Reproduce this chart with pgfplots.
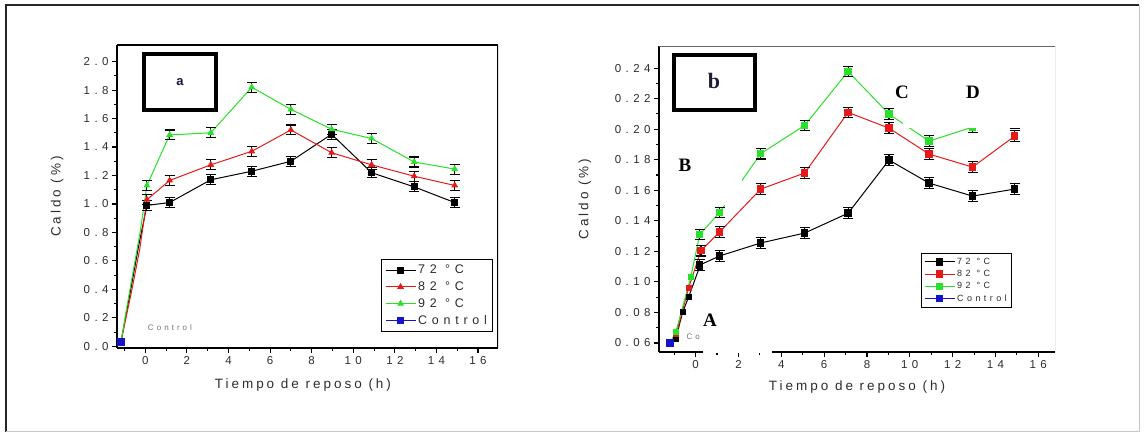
\documentclass[border=0pt]{standalone}
\usepackage{fontspec}
\setmainfont{Liberation Sans}
\newfontfamily\tnr{Liberation Serif}
\newfontfamily\spacedA[LetterSpace=38]{Liberation Sans}
\newfontfamily\spacedB[LetterSpace=22]{Liberation Sans}
\usepackage{pgfplots}
\pgfplotsset{compat=1.18}
\definecolor{cred}{RGB}{230,25,25}
\definecolor{cgreen}{RGB}{40,225,40}
\definecolor{cblue}{RGB}{20,20,200}
\definecolor{tgrey}{RGB}{45,45,45}
\pgfplotsset{
  myaxis/.style={
    scale only axis, axis lines*=left,
    axis line style={line width=1.9pt, black},
    tick align=outside, major tick length=5pt, minor tick length=3pt,
    every tick/.style={black, line width=1.1pt},
    /pgf/number format/assume math mode=true,
    tick label style={font=\spacedA\fontsize{11.5}{13}\selectfont, text=tgrey},
    label style={font=\spacedB\fontsize{13.5}{15}\selectfont, text=tgrey},
    legend cell align=left,
    legend image code/.code={\draw[mark repeat=2,mark phase=2] plot coordinates {(0pt,0pt)(15pt,0pt)(30pt,0pt)};},
  },
  ebar/.style={error bars/.cd, y dir=both, y fixed=#1,
    error bar style={black, line width=1.1pt},
    error mark options={rotate=90, mark size=5pt, line width=1.1pt, black}},
}
\begin{document}
\begin{tikzpicture}[x=1pt,y=1pt]
% ---------------- panel a ----------------
\begin{axis}[myaxis, at={(117pt,85pt)}, anchor=south west,
  width=381pt, height=303pt,
  xmin=-1.36, xmax=16.96, ymin=-0.012, ymax=2.117,
  xtick={0,2,...,16}, minor xtick={-1,1,...,15},
  ytick={0,0.2,0.4,0.6,0.8,1.0,1.2,1.4,1.6,1.8,2.0}, minor y tick num=1,
  yticklabel style={/pgf/number format/.cd, fixed, fixed zerofill, precision=1},
  xlabel={Tiempo de reposo (h)}, ylabel={Caldo (\%)},
  xlabel style={at={(axis description cs:0.488,-0.122)}, anchor=center},
  ylabel style={at={(axis description cs:-0.157,0.5)}, anchor=center},
  legend style={at={(axis description cs:0.987,0.053)}, anchor=south east,
    draw=black, line width=1.2pt, font=\spacedA\fontsize{12.5}{14}\selectfont, text=tgrey,
    row sep=2.5pt, inner sep=3.5pt},
]
\addplot[black, line width=1pt, forget plot] coordinates {(-1.17,0.03) (-0.75,0.36) (-0.3,0.72) (0.08,0.99)};
\addplot[cred, line width=1pt, forget plot] coordinates {(-1.17,0.03) (-0.64,0.40) (-0.27,0.68) (0.08,1.03)};
\addplot[cgreen, line width=1pt, forget plot] coordinates {(-1.17,0.03) (-0.88,0.28) (-0.24,0.81) (0.08,1.13)};
\addplot[black, line width=1pt, mark=square*, mark size=3pt, ebar=0.035] coordinates {
 (0.08,0.99) (1.17,1.01) (3.15,1.17) (5.12,1.23) (7.0,1.30) (8.96,1.49) (10.88,1.22) (12.93,1.12) (14.88,1.01)};
\addplot[cred, line width=1pt, mark=triangle*, mark size=3pt, ebar=0.035] coordinates {
 (0.08,1.03) (1.17,1.165) (3.15,1.275) (5.12,1.37) (7.0,1.52) (8.96,1.36) (10.88,1.275) (12.93,1.195) (14.88,1.13)};
\addplot[cgreen, line width=1pt, mark=triangle*, mark size=3pt, ebar=0.035] coordinates {
 (0.08,1.13) (1.17,1.485) (3.15,1.50) (5.12,1.82) (7.0,1.665) (8.96,1.525) (10.88,1.46) (12.93,1.295) (14.88,1.245)};
\addplot[cblue, line width=1.2pt, mark=square*, mark size=3pt] coordinates {(-1.17,0.03)};
\legend{72 °C, 82 °C, 92 °C, Control}
\draw[black, line width=1.4pt] (rel axis cs:0,1) -- (rel axis cs:1,1);
\draw[black, line width=2.2pt] (rel axis cs:1,1) -- (rel axis cs:1,0);
\end{axis}
% ---------------- panel b ----------------
\begin{axis}[myaxis, at={(659pt,81pt)}, anchor=south west,
  width=396pt, height=306pt,
  xmin=-1.71, xmax=16.78, ymin=0.0541, ymax=0.2545,
  xtick={0,2,...,16}, minor xtick={-1,1,...,15},
  ytick={0.06,0.08,0.10,0.12,0.14,0.16,0.18,0.20,0.22,0.24}, minor y tick num=1,
  yticklabel style={/pgf/number format/.cd, fixed, fixed zerofill, precision=2},
  xlabel={Tiempo de reposo (h)}, ylabel={Caldo (\%)},
  xlabel style={at={(axis description cs:0.5,-0.115)}, anchor=center},
  ylabel style={at={(axis description cs:-0.187,0.5)}, anchor=center},
  legend style={at={(axis description cs:0.891,0.144)}, anchor=south east,
    draw=black, line width=1.2pt, font=\spacedA\fontsize{9}{10}\selectfont, text=tgrey,
    row sep=0.5pt, inner sep=2.5pt},
]
\addplot[black, line width=1pt, mark=square*, mark size=2.5pt, forget plot] coordinates {(-1.2,0.06) (-0.93,0.0626) (-0.61,0.080) (-0.33,0.090) (0.19,0.110)};
\addplot[cred, line width=1pt, mark=square*, mark size=2.5pt, forget plot] coordinates {(-1.2,0.06) (-0.9,0.066) (-0.33,0.096) (0.25,0.1205)};
\addplot[cgreen, line width=1pt, mark=square*, mark size=2.5pt, forget plot] coordinates {(-1.2,0.06) (-0.93,0.067) (-0.23,0.103) (0.19,0.131)};
\addplot[black, line width=1pt, mark=square*, mark size=3.2pt, ebar=0.0035] coordinates {
 (0.19,0.111) (1.12,0.117) (3.04,0.1255) (5.09,0.132) (7.12,0.145) (9.03,0.1798) (10.9,0.1647) (12.93,0.1562) (14.9,0.1608)};
\addplot[cred, line width=1pt, mark=square*, mark size=3.2pt, ebar=0.0035] coordinates {
 (0.25,0.1205) (1.12,0.1327) (3.04,0.1608) (5.09,0.1713) (7.12,0.211) (9.03,0.2007) (10.9,0.1837) (12.93,0.1752) (14.9,0.1955)};
\addplot[cgreen, line width=1pt, mark=square*, mark size=3.2pt, ebar=0.0035] coordinates {
 (0.19,0.131) (1.12,0.1455) (3.04,0.184) (5.09,0.2025) (7.12,0.2378) (9.03,0.2099) (10.9,0.1922) (12.93,0.2014) (14.9,0.204)};
\addplot[cblue, line width=1.2pt, mark=square*, mark size=3pt] coordinates {(-1.2,0.06)};
\legend{72 °C, 82 °C, 92 °C, Control}
\draw[black!60, line width=0.9pt] (rel axis cs:0,1) -- (rel axis cs:1,1) -- (rel axis cs:1,0);
\end{axis}
% ---------------- annotations ----------------
\node[text=black!55, font=\spacedA\fontsize{8}{9}\selectfont] at (170,105) {Control};
\node[anchor=west, text=black!55, font=\spacedA\fontsize{8}{9}\selectfont] at (683,96) {Control};
% white patches of the original
\fill[white] (903,305) rectangle (1025,385);
\fill[white] (672,228) rectangle (742,286);
\fill[white] (703,80) rectangle (772,103);
% boxes a and b
\draw[black, line width=3.5pt] (144,379) rectangle (216,323);
\node[font=\bfseries\fontsize{13}{15}\selectfont, text={rgb,255:red,20;green,25;blue,60}] at (180,351) {a};
\draw[black, line width=3.5pt] (674,378) rectangle (755,323);
\node[font=\tnr\bfseries\fontsize{22}{24}\selectfont, text={rgb,255:red,30;green,30;blue,50}] at (714,352) {b};
% letters
\node[font=\tnr\bfseries\fontsize{19}{21}\selectfont] at (710,113) {A};
\node[font=\tnr\bfseries\fontsize{19}{21}\selectfont] at (685,268) {B};
\node[font=\tnr\bfseries\fontsize{19}{21}\selectfont] at (902,341) {C};
\node[font=\tnr\bfseries\fontsize{19}{21}\selectfont] at (973,341) {D};
% outer frame
\draw[black!85, line width=1.5pt] (6,1) -- (6,428) -- (1139,428);
\draw[black!22, line width=1pt] (1139,428) -- (1139,1) -- (6,1);
\pgfresetboundingbox
\path[use as bounding box] (0,0) rectangle (1146,433);
\end{tikzpicture}
\end{document}
